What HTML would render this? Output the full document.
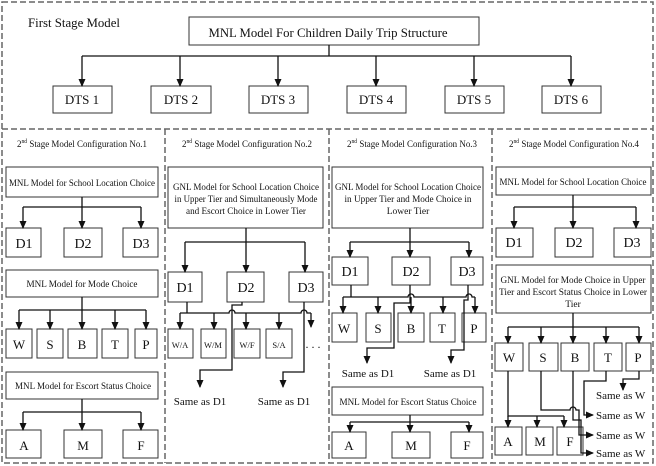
<!DOCTYPE html>
<html><head><meta charset="utf-8"><style>
html,body{margin:0;padding:0;background:#fff;}
svg{display:block;font-family:"Liberation Serif",serif;}
</style></head><body>
<svg width="656" height="466" viewBox="0 0 656 466" xmlns="http://www.w3.org/2000/svg">
<defs>
<marker id="a" markerWidth="8" markerHeight="8" refX="7" refY="4" orient="auto" markerUnits="userSpaceOnUse"><path d="M0,0.5 L8,4 L0,7.5z" fill="#111"/></marker>
</defs>
<g fill="none" stroke="#666" stroke-width="1.5" stroke-dasharray="6,3">
<rect x="2" y="2" width="651" height="461"/>
<line x1="2" y1="129" x2="653" y2="129"/>
<line x1="165" y1="129" x2="165" y2="463"/>
<line x1="329" y1="129" x2="329" y2="463"/>
<line x1="492" y1="129" x2="492" y2="463"/>
</g>
<g fill="#fff" stroke="#333" stroke-width="1">
<rect x="189" y="17" width="290" height="28"/>
<rect x="53" y="86" width="59" height="27"/>
<rect x="151" y="86" width="60" height="27"/>
<rect x="249" y="86" width="59" height="27"/>
<rect x="347" y="86" width="59" height="27"/>
<rect x="445" y="86" width="59" height="27"/>
<rect x="542" y="86" width="59" height="27"/>
<rect x="6" y="167" width="152" height="30"/>
<rect x="6" y="228" width="35" height="29"/><rect x="64" y="228" width="38" height="29"/><rect x="123" y="228" width="35" height="29"/>
<rect x="6" y="270" width="152" height="27"/>
<rect x="6" y="329" width="26" height="29"/><rect x="37" y="329" width="26" height="29"/><rect x="68" y="329" width="29" height="29"/><rect x="102" y="329" width="26" height="29"/><rect x="135" y="329" width="22" height="29"/>
<rect x="6" y="372" width="152" height="27"/>
<rect x="6" y="430" width="35" height="28"/><rect x="64" y="430" width="38" height="28"/><rect x="123" y="430" width="35" height="28"/>
<rect x="168" y="167" width="155" height="61"/>
<rect x="168" y="272" width="34" height="30"/><rect x="227" y="272" width="37" height="30"/><rect x="289" y="272" width="34" height="30"/>
<rect x="168" y="329" width="25" height="29"/><rect x="201" y="329" width="25" height="29"/><rect x="234" y="329" width="26" height="29"/><rect x="266" y="329" width="26" height="29"/>
<rect x="332" y="167" width="151" height="61"/>
<rect x="332" y="257" width="36" height="28"/><rect x="392" y="257" width="38" height="28"/><rect x="451" y="257" width="32" height="28"/>
<rect x="332" y="313" width="25" height="29"/><rect x="366" y="313" width="25" height="29"/><rect x="398" y="313" width="26" height="29"/><rect x="430" y="313" width="25" height="29"/><rect x="462" y="313" width="24" height="29"/>
<rect x="332" y="387" width="151" height="28"/>
<rect x="332" y="432" width="34" height="26"/><rect x="392" y="432" width="38" height="26"/><rect x="451" y="432" width="32" height="26"/>
<rect x="496" y="167" width="155" height="28"/>
<rect x="496" y="228" width="37" height="29"/><rect x="555" y="228" width="38" height="29"/><rect x="614" y="228" width="37" height="29"/>
<rect x="496" y="265" width="155" height="48"/>
<rect x="495" y="343" width="28" height="28"/><rect x="529" y="343" width="29" height="28"/><rect x="561" y="343" width="28" height="28"/><rect x="594" y="343" width="28" height="28"/><rect x="626" y="343" width="25" height="28"/>
<rect x="495" y="427" width="27" height="28"/><rect x="526" y="427" width="27" height="28"/><rect x="557" y="427" width="26" height="28"/>
</g>
<g fill="none" stroke="#111" stroke-width="1.3">
<path d="M329,45V56M82,56H571"/>
<path d="M82,56V86" marker-end="url(#a)"/><path d="M180,56V86" marker-end="url(#a)"/><path d="M278,56V86" marker-end="url(#a)"/><path d="M376,56V86" marker-end="url(#a)"/><path d="M474,56V86" marker-end="url(#a)"/><path d="M571,56V86" marker-end="url(#a)"/>
<path d="M82,197V207M23,207H141"/>
<path d="M23,207V228" marker-end="url(#a)"/><path d="M82,207V228" marker-end="url(#a)"/><path d="M141,207V228" marker-end="url(#a)"/>
<path d="M82,297V310M19,310H146"/>
<path d="M19,310V329" marker-end="url(#a)"/><path d="M50,310V329" marker-end="url(#a)"/><path d="M82,310V329" marker-end="url(#a)"/><path d="M115,310V329" marker-end="url(#a)"/><path d="M146,310V329" marker-end="url(#a)"/>
<path d="M82,399V412M23,412H141"/>
<path d="M23,412V430" marker-end="url(#a)"/><path d="M82,412V430" marker-end="url(#a)"/><path d="M141,412V430" marker-end="url(#a)"/>
<path d="M246,228V242M185,242H305"/>
<path d="M185,242V272" marker-end="url(#a)"/><path d="M246,242V272" marker-end="url(#a)"/><path d="M305,242V272" marker-end="url(#a)"/>
<path d="M187,302V313M180,313H229a3,3 0 0 1 6,0H301a3,3 0 0 1 6,0H311"/>
<path d="M180,313V329" marker-end="url(#a)"/><path d="M214,313V329" marker-end="url(#a)"/><path d="M246,313V329" marker-end="url(#a)"/><path d="M279,313V329" marker-end="url(#a)"/><path d="M311,313V327" marker-end="url(#a)"/>
<path d="M242,302V305H232V370H200V387" marker-end="url(#a)"/>
<path d="M304,302V372H283V387" marker-end="url(#a)"/>
<path d="M410,228V242M350,242H469"/>
<path d="M350,242V257" marker-end="url(#a)"/><path d="M410,242V257" marker-end="url(#a)"/><path d="M469,242V257" marker-end="url(#a)"/>
<path d="M351,285V297M343,297H408a3,3 0 0 1 6,0H466a3,3 0 0 1 6,0H475"/>
<path d="M343,297V313" marker-end="url(#a)"/><path d="M378,297V313" marker-end="url(#a)"/><path d="M411,297V313" marker-end="url(#a)"/><path d="M443,297V313" marker-end="url(#a)"/><path d="M475,297V313" marker-end="url(#a)"/>
<path d="M410,285V303H394V348H367V363" marker-end="url(#a)"/>
<path d="M468,285V300H464V350H451V363" marker-end="url(#a)"/>
<path d="M410,415V422M350,422H469"/>
<path d="M350,422V432" marker-end="url(#a)"/><path d="M410,422V432" marker-end="url(#a)"/><path d="M469,422V432" marker-end="url(#a)"/>
<path d="M573,195V207M514,207H636"/>
<path d="M514,207V228" marker-end="url(#a)"/><path d="M573,207V228" marker-end="url(#a)"/><path d="M636,207V228" marker-end="url(#a)"/>
<path d="M573,313V327M508,327H639"/>
<path d="M508,327V343" marker-end="url(#a)"/><path d="M541,327V343" marker-end="url(#a)"/><path d="M573,327V343" marker-end="url(#a)"/><path d="M606,327V343" marker-end="url(#a)"/><path d="M639,327V343" marker-end="url(#a)"/>
<path d="M508,371V416H564"/>
<path d="M508,416V427" marker-end="url(#a)"/><path d="M537,416V427" marker-end="url(#a)"/><path d="M564,416V427" marker-end="url(#a)"/>
<path d="M639,371V379H623V390" marker-end="url(#a)"/>
<path d="M606,371V381H584V415H593" marker-end="url(#a)"/>
<path d="M541,371V410H570a3,3 0 0 1 6,0H579V435H593" marker-end="url(#a)"/>
<path d="M573,371V420H581V453H593" marker-end="url(#a)"/>
</g>
<g fill="#111" font-size="13" text-anchor="middle">
<text x="74" y="27" font-size="12.5" textLength="92" lengthAdjust="spacingAndGlyphs">First Stage Model</text>
<text x="328" y="37" font-size="13" textLength="239" lengthAdjust="spacingAndGlyphs">MNL Model For Children Daily Trip Structure</text>
<text x="82" y="104">DTS 1</text><text x="181" y="104">DTS 2</text><text x="278" y="104">DTS 3</text><text x="376" y="104">DTS 4</text><text x="474" y="104">DTS 5</text><text x="571" y="104">DTS 6</text>
</g>
<g fill="#111" font-size="9.5" text-anchor="middle">
<text x="82" y="147" textLength="130" lengthAdjust="spacingAndGlyphs">2<tspan font-size="6" dy="-4">nd</tspan><tspan dy="4"> Stage Model Configuration No.1</tspan></text>
<text x="247" y="147" textLength="130" lengthAdjust="spacingAndGlyphs">2<tspan font-size="6" dy="-4">nd</tspan><tspan dy="4"> Stage Model Configuration No.2</tspan></text>
<text x="412" y="147" textLength="130" lengthAdjust="spacingAndGlyphs">2<tspan font-size="6" dy="-4">nd</tspan><tspan dy="4"> Stage Model Configuration No.3</tspan></text>
<text x="574" y="147" textLength="130" lengthAdjust="spacingAndGlyphs">2<tspan font-size="6" dy="-4">nd</tspan><tspan dy="4"> Stage Model Configuration No.4</tspan></text>
<text x="82" y="186" textLength="146" lengthAdjust="spacingAndGlyphs">MNL Model for School Location Choice</text>
<text x="82" y="287" textLength="111" lengthAdjust="spacingAndGlyphs">MNL Model for Mode Choice</text>
<text x="83" y="389" textLength="136" lengthAdjust="spacingAndGlyphs">MNL Model for Escort Status Choice</text>
<text x="246" y="190" textLength="146" lengthAdjust="spacingAndGlyphs">GNL Model for School Location Choice</text>
<text x="246" y="202" textLength="143" lengthAdjust="spacingAndGlyphs">in Upper Tier and Simultaneously Mode</text>
<text x="246" y="214" textLength="120" lengthAdjust="spacingAndGlyphs">and Escort Choice in Lower Tier</text>
<text x="408" y="190" textLength="146" lengthAdjust="spacingAndGlyphs">GNL Model for School Location Choice</text>
<text x="408" y="202" textLength="127" lengthAdjust="spacingAndGlyphs">in Upper Tier and Mode Choice in</text>
<text x="408" y="214">Lower Tier</text>
<text x="408" y="405" textLength="137" lengthAdjust="spacingAndGlyphs">MNL Model for Escort Status Choice</text>
<text x="573" y="185" textLength="147" lengthAdjust="spacingAndGlyphs">MNL Model for School Location Choice</text>
<text x="573" y="283" textLength="145" lengthAdjust="spacingAndGlyphs">GNL Model for Mode Choice in Upper</text>
<text x="573" y="295" textLength="148" lengthAdjust="spacingAndGlyphs">Tier and Escort Status Choice in Lower</text>
<text x="573" y="307">Tier</text>
</g>
<g fill="#111" font-size="14" text-anchor="middle">
<text x="24" y="248">D1</text><text x="83" y="248">D2</text><text x="141" y="248">D3</text>
<text x="19" y="349" font-size="13">W</text><text x="50" y="349" font-size="13">S</text><text x="82" y="349" font-size="13">B</text><text x="115" y="349" font-size="13">T</text><text x="146" y="349" font-size="13">P</text>
<text x="24" y="450" font-size="13">A</text><text x="83" y="450" font-size="13">M</text><text x="141" y="450" font-size="13">F</text>
<text x="185" y="292">D1</text><text x="246" y="292">D2</text><text x="306" y="292">D3</text>
<text x="180" y="348" font-size="8.5">W/A</text><text x="213" y="348" font-size="8.5">W/M</text><text x="247" y="348" font-size="8.5">W/F</text><text x="279" y="348" font-size="8.5">S/A</text>
<text x="313" y="348" font-size="12">. . .</text>
<text x="200" y="405" font-size="11">Same as D1</text><text x="284" y="405" font-size="11">Same as D1</text>
<text x="350" y="276">D1</text><text x="411" y="276">D2</text><text x="467" y="276">D3</text>
<text x="344" y="333" font-size="13">W</text><text x="378" y="333" font-size="13">S</text><text x="411" y="333" font-size="13">B</text><text x="442" y="333" font-size="13">T</text><text x="474" y="333" font-size="13">P</text>
<text x="368" y="377" font-size="11">Same as D1</text><text x="450" y="377" font-size="11">Same as D1</text>
<text x="349" y="450" font-size="13">A</text><text x="411" y="450" font-size="13">M</text><text x="467" y="450" font-size="13">F</text>
<text x="514" y="247">D1</text><text x="574" y="247">D2</text><text x="632" y="247">D3</text>
<text x="509" y="362" font-size="13">W</text><text x="543" y="362" font-size="13">S</text><text x="575" y="362" font-size="13">B</text><text x="608" y="362" font-size="13">T</text><text x="638" y="362" font-size="13">P</text>
<text x="508" y="446" font-size="13">A</text><text x="540" y="446" font-size="13">M</text><text x="570" y="446" font-size="13">F</text>
</g>
<g fill="#111" font-size="11">
<text x="596" y="399">Same as W</text>
<text x="596" y="419">Same as W</text>
<text x="596" y="439">Same as W</text>
<text x="596" y="457">Same as W</text>
</g>
</svg>
</body></html>
